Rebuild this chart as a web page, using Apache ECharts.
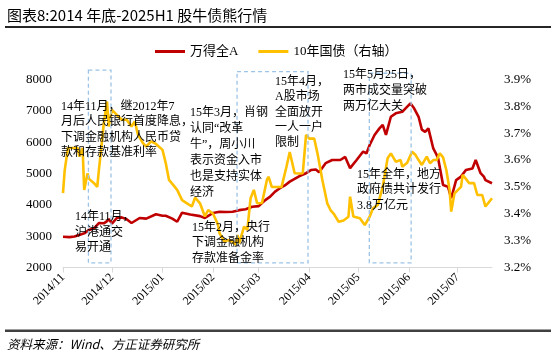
<!DOCTYPE html>
<html><head><meta charset="utf-8">
<script src="https://cdn.jsdelivr.net/npm/echarts@6/dist/echarts.min.js"></script>
<style>html,body{margin:0;padding:0;background:#fff}#c{width:556px;height:358px}</style>
</head><body><div id="c"></div>
<script>
// ---- data ----
const tickDates = ['2014-11-01','2014-12-01','2015-01-01','2015-02-01','2015-03-01','2015-04-01','2015-05-01','2015-06-01','2015-07-01'];
const tickLabels = ['2014/11','2014/12','2015/01','2015/02','2015/03','2015/04','2015/05','2015/06','2015/07'];
const seriesNames = ['万得全A','10年国债（右轴）'];

const wdDates = ['2014-11-01','2014-11-05','2014-11-08','2014-11-11','2014-11-14','2014-11-17','2014-11-20','2014-11-23','2014-11-26','2014-11-28','2014-11-29',
 '2014-12-01','2014-12-04','2014-12-07','2014-12-10','2014-12-13','2014-12-18','2014-12-22','2014-12-28',
 '2015-01-01','2015-01-03','2015-01-07','2015-01-10','2015-01-13','2015-01-18','2015-01-24','2015-01-27',
 '2015-02-01','2015-02-05','2015-02-09','2015-02-13','2015-02-17','2015-02-21','2015-02-25',
 '2015-03-01','2015-03-05','2015-03-08','2015-03-11','2015-03-14','2015-03-17','2015-03-20','2015-03-23','2015-03-26','2015-03-30',
 '2015-04-02','2015-04-05','2015-04-07','2015-04-11','2015-04-15','2015-04-20','2015-04-23','2015-04-26','2015-04-30',
 '2015-05-04','2015-05-06','2015-05-08','2015-05-11','2015-05-14','2015-05-16','2015-05-18','2015-05-21','2015-05-24','2015-05-28','2015-05-30',
 '2015-06-02','2015-06-04','2015-06-07','2015-06-09','2015-06-11','2015-06-13','2015-06-16','2015-06-18','2015-06-19','2015-06-22','2015-06-25','2015-06-27','2015-06-30',
 '2015-07-03','2015-07-06','2015-07-10','2015-07-12','2015-07-15','2015-07-17','2015-07-18','2015-07-22'];
const wdValues = [2980,2970,2990,3040,3090,3200,3250,3420,3410,3480,3550,
 3400,3580,3600,3540,3420,3580,3560,3700,
 3650,3650,3560,3460,3750,3690,3640,3580,
 3740,3780,3770,3780,3830,3860,3940,
 3960,4150,4260,4420,4530,4620,4740,4830,4920,5010,
 5110,5130,5040,5330,5430,5430,5530,5170,5430,
 5700,5640,5910,6230,6440,6550,6230,6810,6920,6970,7080,
 7240,7100,6810,6400,6330,6440,5800,5600,5480,4630,4580,4210,4790,
 4900,5110,5160,5430,5010,4900,4790,4690];

const bondDates = ['2014-11-01','2014-11-02','2014-11-04','2014-11-06','2014-11-10','2014-11-11','2014-11-13','2014-11-14','2014-11-16','2014-11-17','2014-11-20','2014-11-22','2014-11-23','2014-11-25','2014-11-26','2014-11-28','2014-11-29',
 '2014-12-01','2014-12-02','2014-12-04','2014-12-07','2014-12-10','2014-12-13','2014-12-15','2014-12-17','2014-12-20','2014-12-22','2014-12-25','2014-12-28',
 '2015-01-01','2015-01-03','2015-01-05','2015-01-10','2015-01-13','2015-01-16','2015-01-19','2015-01-21','2015-01-24','2015-01-27','2015-01-29',
 '2015-02-01','2015-02-04','2015-02-05','2015-02-08','2015-02-10','2015-02-13','2015-02-15','2015-02-16','2015-02-17','2015-02-20','2015-02-22','2015-02-24','2015-02-26','2015-02-28',
 '2015-03-03','2015-03-06','2015-03-07','2015-03-09','2015-03-12','2015-03-15','2015-03-18','2015-03-20','2015-03-21','2015-03-23','2015-03-26','2015-03-28','2015-03-30',
 '2015-04-01','2015-04-02','2015-04-04','2015-04-06','2015-04-09','2015-04-12','2015-04-14','2015-04-16','2015-04-19','2015-04-22','2015-04-25','2015-04-26','2015-04-28',
 '2015-05-02','2015-05-05','2015-05-06','2015-05-08','2015-05-10','2015-05-13','2015-05-16','2015-05-19','2015-05-21','2015-05-24','2015-05-27','2015-05-28','2015-05-31',
 '2015-06-03','2015-06-05','2015-06-07','2015-06-09','2015-06-12','2015-06-14','2015-06-16','2015-06-18','2015-06-20','2015-06-22','2015-06-24','2015-06-26','2015-06-27','2015-06-29',
 '2015-07-03','2015-07-04','2015-07-06','2015-07-08','2015-07-11','2015-07-13','2015-07-16','2015-07-18','2015-07-22'];
const bondValues = [3.477,3.56,3.645,3.645,3.645,3.613,3.645,3.489,3.55,3.53,3.514,3.50,3.563,3.675,3.737,3.818,3.725,
 3.787,3.78,3.768,3.75,3.75,3.725,3.744,3.694,3.663,3.65,3.67,3.66,
 3.638,3.588,3.526,3.489,3.451,3.439,3.427,3.46,3.439,3.39,3.414,
 3.40,3.36,3.327,3.296,3.302,3.296,3.284,3.321,3.29,3.352,3.34,3.458,3.489,3.439,
 3.44,3.526,3.538,3.50,3.50,3.50,3.575,3.63,3.631,3.551,3.55,3.551,3.694,
 3.68,3.675,3.68,3.625,3.526,3.439,3.414,3.40,3.37,3.375,3.389,3.464,3.39,
 3.383,3.358,3.362,3.389,3.42,3.433,3.50,3.607,3.625,3.594,3.60,3.575,3.59,
 3.631,3.62,3.60,3.582,3.613,3.588,3.60,3.60,3.625,3.61,3.563,3.489,3.408,3.476,
 3.50,3.545,3.53,3.514,3.514,3.47,3.47,3.427,3.458];

// annotation boxes (date range on x, left-axis values on y)
const boxStart = ['2014-11-16 14:00','2015-02-15 17:00','2015-05-07 19:00'];
const boxEnd   = ['2014-11-30 10:00','2015-03-31 05:00','2015-06-02 10:00'];
const boxTop   = [8300, 8250, 8200];
const boxBottom = 2150;

const notes = [
  {text:'14年11月，继2012年7\n月后人民银行首度降息，\n下调金融机构人民币贷\n款和存款基准利率', x:61, y:99, lh:15.5},
  {text:'14年11月，\n沪港通交\n易开通', x:75, y:209, lh:15.6},
  {text:'15年3月，肖钢\n认同“改革\n牛”，周小川\n表示资金入市\n也是支持实体\n经济', x:190, y:105, lh:16},
  {text:'15年2月，央行\n下调金融机构\n存款准备金率', x:192, y:220, lh:15.5},
  {text:'15年4月，\nA股市场\n全面放开\n一人一户\n限制', x:275, y:74, lh:15.4},
  {text:'15年5月25日，\n两市成交量突破\n两万亿大关', x:343, y:67, lh:15.8},
  {text:'15年全年，地方\n政府债共计发行\n3.8万亿元', x:357, y:167, lh:15.5}
];

// ---- chart ----
const chart = echarts.init(document.getElementById('c'));
const serif = '"Liberation Serif","Noto Sans CJK SC",serif';
const ts = d => +echarts.time.parse(d);
const tickTs = tickDates.map(ts);

chart.setOption({
  animation: false,
  grid: {left: 63, right: 64, top: 79.5, bottom: 90.5},
  legend: {
    left: 155, top: 45, itemWidth: 30, itemHeight: 3, icon: 'rect', itemGap: 20, padding: 0,
    data: seriesNames,
    textStyle: {fontFamily: serif, fontSize: 13, color: '#000'}
  },
  xAxis: {
    type: 'value', min: ts('2014-11-01'), max: ts('2015-07-22'),
    axisLine: {show: true, lineStyle: {color: '#d9d9d9', width: 1}},
    axisTick: {show: true, customValues: tickTs, length: 5, lineStyle: {color: '#d9d9d9'}},
    axisLabel: {
      customValues: tickTs, rotate: 45, margin: 8,
      formatter: v => { const i = tickTs.indexOf(v); return i >= 0 ? tickLabels[i] : ''; },
      fontFamily: serif, fontSize: 12, color: '#000'
    },
    splitLine: {show: false}
  },
  yAxis: [
    {type: 'value', min: 2000, max: 8000, interval: 1000,
     axisLine: {show: false}, axisTick: {show: false}, splitLine: {show: false},
     axisLabel: {fontFamily: serif, fontSize: 13, color: '#000', margin: 11, formatter: v => String(v)}},
    {type: 'value', position: 'right', min: 3.2, max: 3.9, interval: 0.1,
     axisLine: {show: false}, axisTick: {show: false}, splitLine: {show: false},
     axisLabel: {fontFamily: serif, fontSize: 13, color: '#000', margin: 12,
                 formatter: v => v.toFixed(1) + '%'}}
  ],
  series: [
    {name: seriesNames[0], type: 'line', yAxisIndex: 0, showSymbol: false, symbol: 'none',
     data: wdDates.map((d, i) => [ts(d), wdValues[i]]),
     lineStyle: {color: '#C00000', width: 2.6}, itemStyle: {color: '#C00000'}},
    {name: seriesNames[1], type: 'line', yAxisIndex: 1, showSymbol: false, symbol: 'none',
     data: bondDates.map((d, i) => [ts(d), bondValues[i]]),
     lineStyle: {color: '#FFC000', width: 2.6}, itemStyle: {color: '#FFC000'}}
  ]
});

const g = [];
g.push({type: 'text', x: 7, y: 15, style: {text: '图表8:2014 年底-2025H1 股牛债熊行情', font: '15px "Noto Sans CJK SC"', fill: '#000', verticalAlign: 'middle'}});
g.push({type: 'rect', shape: {x: 5, y: 26, width: 546, height: 2}, style: {fill: '#262626'}});
g.push({type: 'rect', shape: {x: 5, y: 329.5, width: 546, height: 2.5}, style: {fill: '#404040'}});
g.push({type: 'text', x: 7, y: 344, style: {text: '资料来源：Wind、方正证券研究所', font: 'italic 12.5px "Noto Sans CJK SC"', fill: '#000', verticalAlign: 'middle'}});
for (let i = 0; i < boxStart.length; i++) {
  const p1 = chart.convertToPixel({xAxisIndex: 0, yAxisIndex: 0}, [ts(boxStart[i]), boxTop[i]]);
  const p2 = chart.convertToPixel({xAxisIndex: 0, yAxisIndex: 0}, [ts(boxEnd[i]), boxBottom]);
  g.push({type: 'rect', z: 5, shape: {x: p1[0], y: p1[1], width: p2[0] - p1[0], height: p2[1] - p1[1]},
          style: {fill: 'none', stroke: '#9DC3E6', lineWidth: 1.3, lineDash: [4, 3]}});
}
notes.forEach(n => g.push({type: 'text', z: 10, x: n.x, y: n.y,
  style: {text: n.text, font: '12px ' + serif, fill: '#000', lineHeight: n.lh, verticalAlign: 'top'}}));
chart.setOption({graphic: g});
</script></body></html>
